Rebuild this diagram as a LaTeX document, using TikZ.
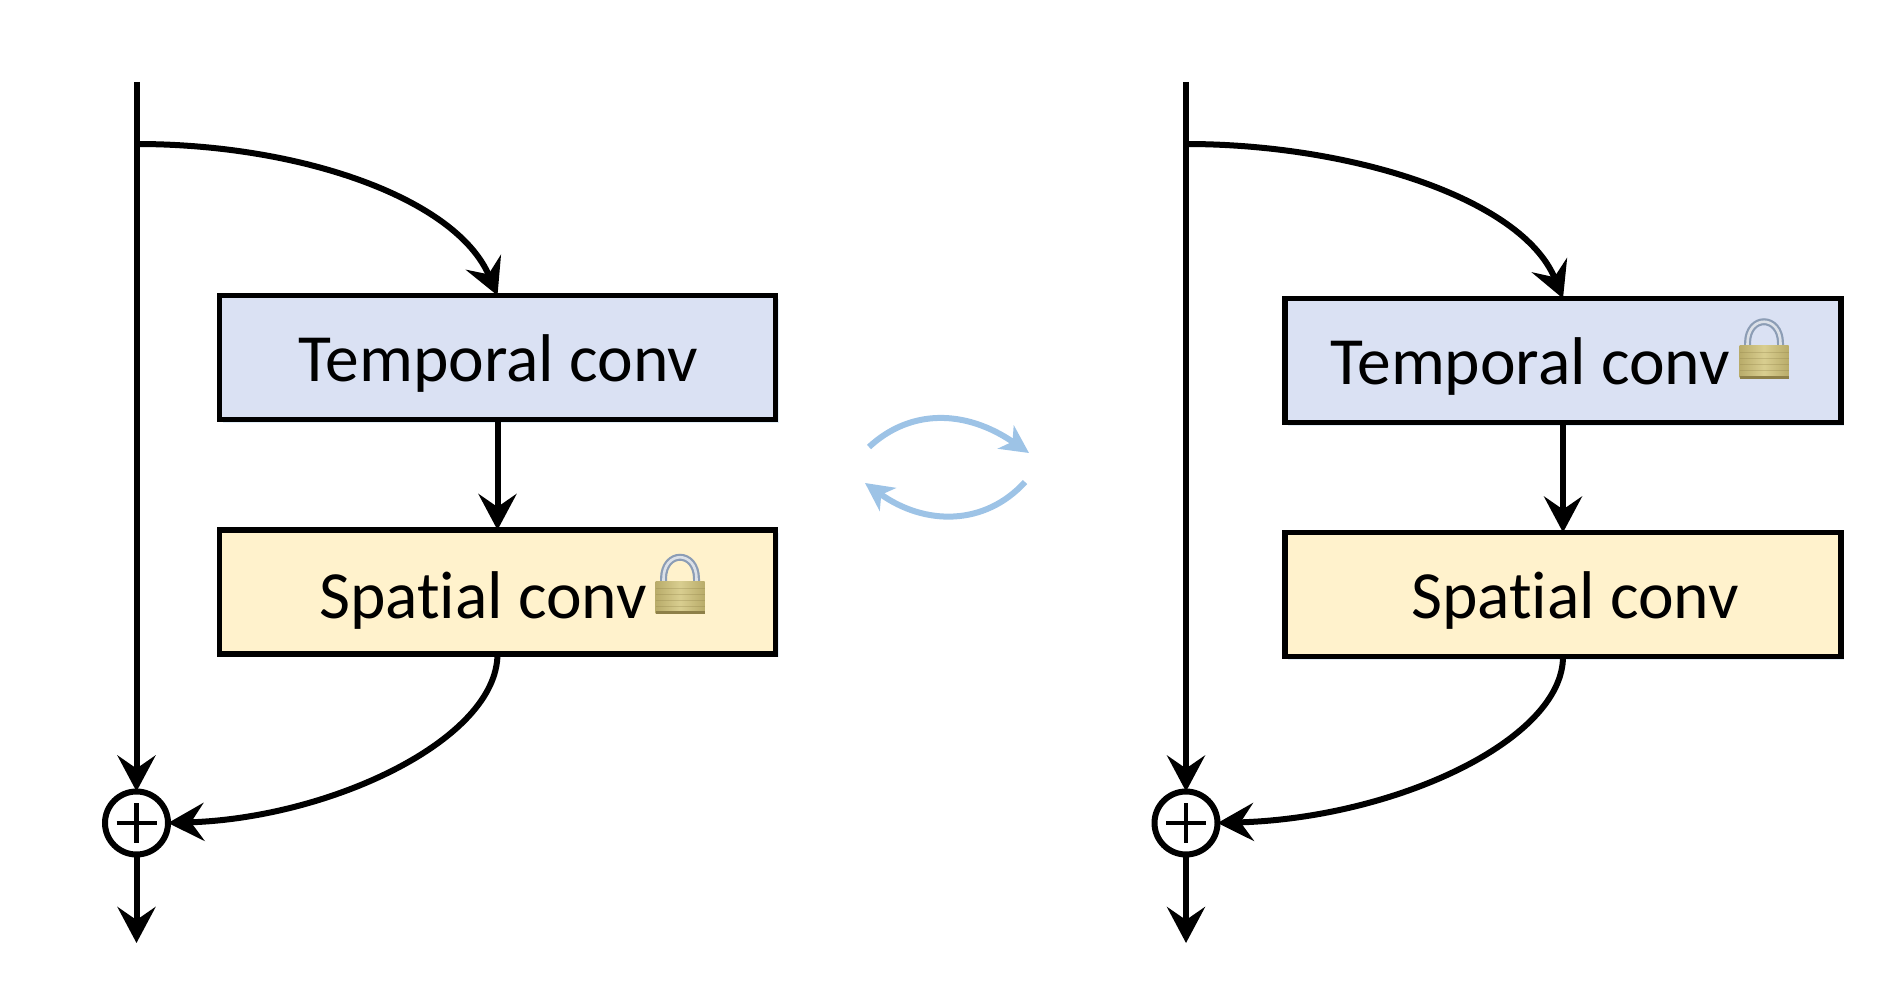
\documentclass[tikz,border=0pt]{standalone}
\usepackage{fontspec}
\setmainfont[Ligatures={NoCommon}]{Carlito}
\usetikzlibrary{arrows.meta,shadows}
\definecolor{tempfill}{HTML}{DAE1F3}
\definecolor{spatfill}{HTML}{FFF2CC}
\definecolor{swapblue}{HTML}{9DC3E6}
\definecolor{lockA}{HTML}{B9AC6A}
\definecolor{lockB}{HTML}{D9CE90}
\definecolor{lockC}{HTML}{8E8048}
\definecolor{shackle}{HTML}{8C9DB5}
\tikzset{
  x=1pt,y=-1pt,
  flow/.style={line width=6pt,draw=black,-{Stealth[length=36pt,width=38pt,inset=13pt]}},
  swap/.style={line width=6pt,draw=swapblue,-{Stealth[length=28pt,width=28pt,inset=8pt]}},
  convbox/.style={draw=black,line width=5.5pt,minimum width=556pt,minimum height=124pt,inner sep=0pt,outer sep=0pt,
    general shadow={shadow xshift=3pt,shadow yshift=-3pt,fill=swapblue,draw=none,opacity=.3}},
  label/.style={font=\fontsize{67.5}{72}\selectfont,text=black,inner sep=0pt},
  sumnode/.style={circle,draw=black,fill=white,line width=6pt,minimum size=63pt,inner sep=0pt,outer sep=0pt},
  plusbar/.style={line width=4.8pt,draw=black},
  lockpic/.pic={
    \draw[line width=7pt,draw=shackle] (-16.5,28) -- (-16.5,24) .. controls (-16.5,-5) and (16.5,-5) .. (16.5,24) -- (16.5,28);
    \draw[line width=2.6pt,draw=white,opacity=.7] (-16.5,27) -- (-16.5,24) .. controls (-16.5,-5) and (16.5,-5) .. (16.5,24) -- (16.5,27);
    \shade[left color=lockA,right color=lockA,middle color=lockB] (-24.5,26) rectangle (24.5,58);
    \fill[lockC] (-24.5,56) rectangle (24.5,59);
    \foreach \yy in {33,39,45,51} \draw[lockC,opacity=.3,line width=.8pt] (-24.5,\yy) -- (24.5,\yy);
  }
}
\begin{document}
\begin{tikzpicture}
\useasboundingbox (0,0) rectangle (1884,1008);
% left
\node[convbox,fill=tempfill] (t1) at (497.5,357.5) {};
\node[convbox,fill=spatfill] (s1) at (497.5,592) {};
\node[label] (t1l) at (498.5,363.5) {Temporal conv};
\node[label] (s1l) at (483,600.5) {Spatial conv};
\path (680,555) pic {lockpic};
\node[sumnode] (c1) at (136.5,823) {};
\coordinate (a1) at (136.5,82);
\coordinate (b1) at (136.5,943);
\coordinate (j1) at (136.5,144);
\draw[plusbar] (116.5,823) -- (156.5,823);
\draw[plusbar] (136.5,803) -- (136.5,843);
\draw[flow] (a1) -- (c1.north);
\draw[flow] (c1.south) -- (b1);
\draw[flow] (j1) .. controls (300,144) and (456,198) .. (t1.north);
\draw[flow] (t1.south) -- (s1.north);
\draw[flow] (s1.south) .. controls (497,740) and (330,818) .. (c1.east);
% right
\node[convbox,fill=tempfill] (t2) at (1563,360.5) {};
\node[convbox,fill=spatfill] (s2) at (1563,594.5) {};
\node[label] (t2l) at (1530,366.5) {Temporal conv};
\node[label] (s2l) at (1575,600.5) {Spatial conv};
\path (1764,319.5) pic {lockpic};
\node[sumnode] (c2) at (1186,823) {};
\coordinate (a2) at (1186,82);
\coordinate (b2) at (1186,943);
\coordinate (j2) at (1186,144);
\draw[plusbar] (1166,823) -- (1206,823);
\draw[plusbar] (1186,803) -- (1186,843);
\draw[flow] (a2) -- (c2.north);
\draw[flow] (c2.south) -- (b2);
\draw[flow] (j2) .. controls (1350,144) and (1522,198) .. (t2.north);
\draw[flow] (t2.south) -- (s2.north);
\draw[flow] (s2.south) .. controls (1563,740) and (1395,818) .. (c2.east);
% swap arrows
\coordinate (u1) at (869,447);
\coordinate (u2) at (1029,453);
\coordinate (l1) at (1025,482);
\coordinate (l2) at (865,483);
\draw[swap] (u1) .. controls (910,409) and (965,409) .. (u2);
\draw[swap] (l1) .. controls (985,526) and (925,526) .. (l2);
\end{tikzpicture}
\end{document}
